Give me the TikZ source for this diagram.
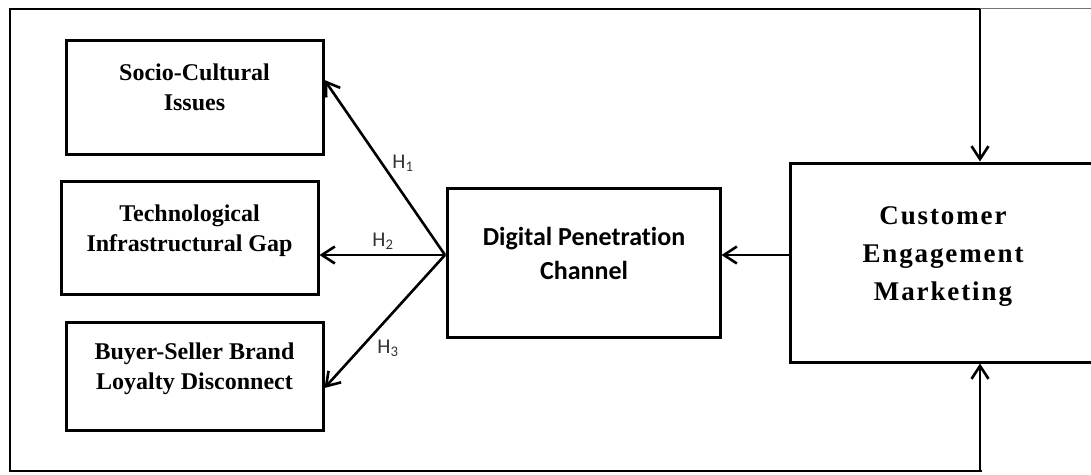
\documentclass[tikz,border=0pt]{standalone}
\usepackage{fontspec}
\setmainfont{Liberation Serif}
\newfontfamily\calib[Ligatures=CommonOff]{Carlito}
\newfontfamily\spacedserif[LetterSpace=7]{Liberation Serif}
\usetikzlibrary{arrows.meta}
\begin{document}
\begin{tikzpicture}[x=1pt,y=-1pt,
  box/.style={draw, line width=3pt, inner sep=0pt},
  lbl/.style={font=\bfseries\fontsize{24}{30}\selectfont, align=center, inner sep=0pt},
  dlbl/.style={font=\calib\bfseries\fontsize{26}{34}\selectfont, align=center, inner sep=0pt},
  clbl/.style={font=\spacedserif\bfseries\fontsize{27}{38}\selectfont, align=center, inner sep=0pt},
  hl/.style={font=\calib\fontsize{21}{22}\selectfont, text=black!80, inner sep=0pt},
  arr/.style={line width=2.6pt, -{Straight Barb[length=13pt,width=17pt,line width=2.6pt]}},
  frame/.style={line width=2pt}]
\useasboundingbox (0,0) rectangle (1091,474);
\clip (0,0) rectangle (1091,474);
% outer frame
\draw[frame] (980,9) -- (10,9) -- (10,471) -- (982,471);
\draw[line width=1pt, black!55] (980,8.5) -- (1091,8.5);
% boxes
\node[box, minimum width=257pt, minimum height=114pt] (b1) at (194.5,97) {};
\node[box, minimum width=257pt, minimum height=113pt] (b2) at (189.5,237.5) {};
\node[box, minimum width=257pt, minimum height=108pt] (b3) at (194.5,376) {};
\node[box, minimum width=273pt, minimum height=149pt] (dpc) at (583.5,262.5) {};
\node[box, minimum width=306pt, minimum height=199pt] (cem) at (943,262.5) {};
% texts
\node[lbl] (t1) at (194.5,87.5) {Socio-Cultural\\Issues};
\node[lbl] (t2) at (189.5,231) {Technological\\Infrastructural Gap};
\node[lbl] (t3) at (194.5,369) {Buyer-Seller Brand\\Loyalty Disconnect};
\node[dlbl] (t4) at (584,253.5) {Digital Penetration\\Channel};
\node[clbl] (t5) at (943,257) {Customer\\Engagement\\Marketing};
% connectors
\coordinate (p) at (445,255);
\coordinate (topin) at (980,9);
\coordinate (botin) at (980,471);
\draw[arr] (p) -- ([yshift=17pt]b1.east);
\draw[arr] (p) -- ([yshift=-17.5pt]b2.east);
\draw[arr] (p) -- ([yshift=-12pt]b3.east);
\draw[arr] (cem.west |- p) -- (dpc.east |- p);
\draw[arr] (topin) -- (topin |- cem.north);
\draw[arr] (botin) -- (botin |- cem.south);
% hypothesis labels
\node[hl] (h1) at (403,163) {H\textsubscript{1}};
\node[hl] (h2) at (383,241) {H\textsubscript{2}};
\node[hl] (h3) at (388,348) {H\textsubscript{3}};
\end{tikzpicture}
\end{document}
